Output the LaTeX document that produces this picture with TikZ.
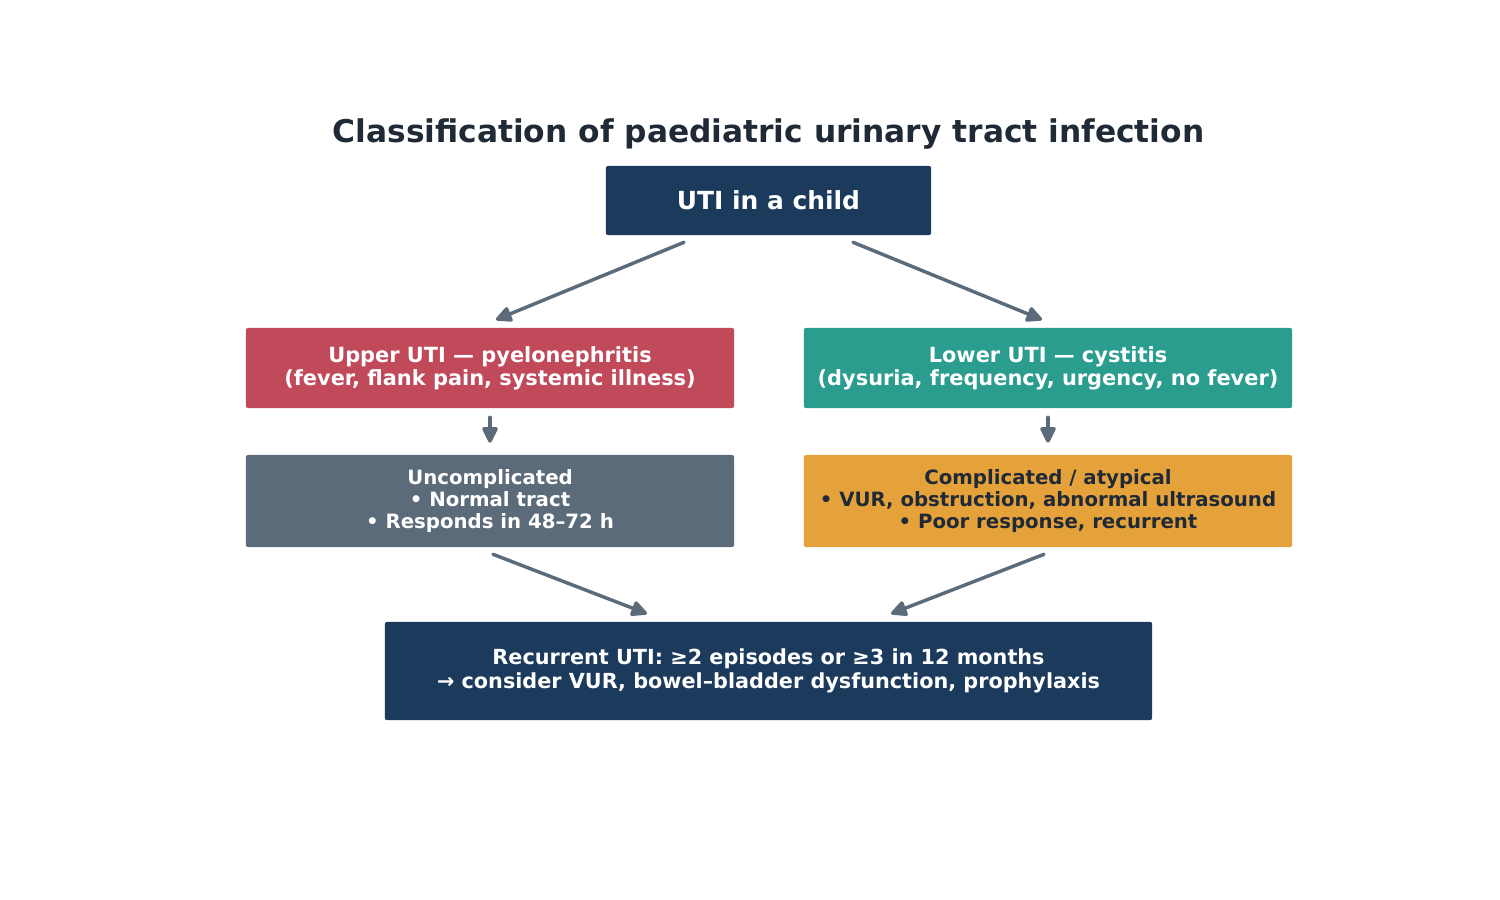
\documentclass[tikz,border=0pt]{standalone}
\usepackage{fontspec}
\setmainfont{DejaVu Sans}
\usetikzlibrary{arrows.meta,positioning}
\definecolor{navy}{HTML}{1B3A5C}
\definecolor{upperred}{HTML}{C0495A}
\definecolor{lowerteal}{HTML}{2A9D8F}
\definecolor{slate}{HTML}{5B6B7A}
\definecolor{amber}{HTML}{E6A23A}
\definecolor{inkdark}{HTML}{1F2A36}
\tikzset{
  classbox/.style={rectangle, rounded corners=1.5pt, align=center, inner sep=0pt,
    text=white, font=\bfseries\fontsize{15.1}{16.6}\selectfont},
  rootbox/.style={classbox, fill=navy, minimum width=3.25in, minimum height=0.69in,
    font=\bfseries\fontsize{18}{20}\selectfont},
  sidebox/.style={classbox, minimum width=4.88in, minimum height=0.80in},
  typebox/.style={classbox, minimum width=4.88in, minimum height=0.92in,
    font=\bfseries\fontsize{14.25}{15.8}\selectfont},
  recurbox/.style={classbox, fill=navy, minimum width=7.67in, minimum height=0.98in,
    font=\bfseries\fontsize{15}{17.3}\selectfont},
  arr/.style={-{Triangle[length=13pt, width=12pt, round]}, line width=2.5pt, draw=slate,
    line cap=round}
}
\begin{document}
\begin{tikzpicture}[x=0.01in, y=-0.01in]
  \useasboundingbox (0,0) rectangle (1500,900);
  \node[font=\bfseries\fontsize{22.6}{26}\selectfont, text=inkdark] (title) at (768.5,134)
    {Classification of paediatric urinary tract infection};
  \node[rootbox] (root) at (768.5,200.5) {UTI in a child};
  \node[sidebox, fill=upperred] (upper) at (490,368)
    {Upper UTI — pyelonephritis\\(fever, flank pain, systemic illness)};
  \node[sidebox, fill=lowerteal] (lower) at (1048,368)
    {Lower UTI — cystitis\\(dysuria, frequency, urgency, no fever)};
  \node[typebox, fill=slate] (uncomp) at (490,501)
    {Uncomplicated\\• Normal tract\\• Responds in 48–72 h};
  \node[typebox, fill=amber, text=inkdark] (comp) at (1048,501)
    {Complicated / atypical\\• VUR, obstruction, abnormal ultrasound\\• Poor response, recurrent};
  \node[recurbox] (recur) at (768.5,671)
    {Recurrent UTI: ≥2 episodes or ≥3 in 12 months\\→ consider VUR, bowel–bladder dysfunction, prophylaxis};
  % connectors
  \draw[arr] ([xshift=-0.845in, yshift=-0.07in]root.south) -- ([xshift=0.06in, yshift=0.08in]upper.north);
  \draw[arr] ([xshift=0.845in, yshift=-0.07in]root.south) -- ([xshift=-0.06in, yshift=0.08in]lower.north);
  \draw[arr] ([yshift=-0.09in]upper.south) -- ([yshift=0.12in]uncomp.north);
  \draw[arr] ([yshift=-0.09in]lower.south) -- ([yshift=0.12in]comp.north);
  \draw[arr] ([xshift=0.03in, yshift=-0.07in]uncomp.south) -- ([xshift=-1.215in, yshift=0.08in]recur.north);
  \draw[arr] ([xshift=-0.04in, yshift=-0.07in]comp.south) -- ([xshift=1.225in, yshift=0.08in]recur.north);
\end{tikzpicture}
\end{document}
